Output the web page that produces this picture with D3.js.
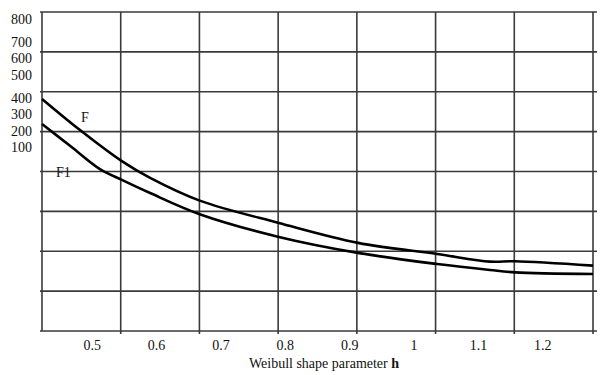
<!DOCTYPE html>
<html>
<head>
<meta charset="utf-8">
<script src="https://cdn.jsdelivr.net/npm/d3@7"></script>
<style>
  body { margin: 0; background: #fff; }
  text { font-family: "Liberation Serif", "Times New Roman", serif; fill: #111; }
</style>
</head>
<body>
<div id="chart"></div>
<script>
// values
const xTicks = [0.5, 0.6, 0.7, 0.8, 0.9, 1, 1.1, 1.2];
const yLabels = [800, 700, 600, 500, 400, 300, 200, 100];

const hF = [0.422, 0.481, 0.546, 0.590, 0.667, 0.790, 0.913, 1.036, 1.118, 1.157, 1.278];
const valF = [582, 504, 426, 384, 327, 271, 221, 193, 174, 175, 164];

const hF1 = [0.422, 0.466, 0.512, 0.546, 0.590, 0.667, 0.790, 0.913, 1.036, 1.118, 1.157, 1.278];
const valF1 = [519, 464, 406, 379, 346, 293, 236, 196, 168, 153, 147, 143];

const width = 606, height = 375;
const plotL = 42, plotR = 593, plotT = 12, plotB = 331;

const svg = d3.select('#chart').append('svg')
  .attr('width', width)
  .attr('height', height);

const x = d3.scaleLinear().domain([0.422, 1.278]).range([plotL, plotR]);
const y = d3.scaleLinear().domain([0, 800]).range([plotB, plotT]);
// the printed labels sit on their own uneven column, not on the grid
const yLab = d3.scaleLinear().domain([800, 700, 500, 400, 100]).range([19, 42, 75, 98, 147]);

const gridColor = '#3a3a3a';

// horizontal grid
svg.append('g').selectAll('line')
  .data(d3.range(0, 801, 100))
  .join('line')
    .attr('x1', plotL - 2)
    .attr('x2', 597)
    .attr('y1', d => y(d))
    .attr('y2', d => y(d))
    .attr('stroke', gridColor)
    .attr('stroke-width', 1.6);

// vertical grid, 7 equal columns
const step = (x.domain()[1] - x.domain()[0]) / 7;
svg.append('g').selectAll('line')
  .data(d3.range(8).map(i => x.domain()[0] + i * step))
  .join('line')
    .attr('x1', d => x(d))
    .attr('x2', d => x(d))
    .attr('y1', plotT)
    .attr('y2', (d, i) => (i === 0 ? plotB : plotB + 3))
    .attr('stroke', gridColor)
    .attr('stroke-width', 1.6);

// y labels
svg.append('g').selectAll('text')
  .data(yLabels)
  .join('text')
    .attr('x', 32)
    .attr('y', d => yLab(d))
    .attr('dy', '0.35em')
    .attr('text-anchor', 'end')
    .style('font-size', '14px')
    .text(d => d);

// x labels
svg.append('g').selectAll('text')
  .data(xTicks)
  .join('text')
    .attr('x', d => x(d))
    .attr('y', 350)
    .attr('text-anchor', 'middle')
    .style('font-size', '14px')
    .text(d => d);

const title = svg.append('text')
  .attr('x', 324)
  .attr('y', 368)
  .attr('text-anchor', 'middle')
  .style('font-size', '14px');
title.append('tspan').text('Weibull shape parameter ');
title.append('tspan').style('font-weight', 'bold').text('h');

// curves
const line = d3.line()
  .x(d => x(d[0]))
  .y(d => y(d[1]))
  .curve(d3.curveCatmullRom.alpha(0.5));

const series = [
  { name: 'F', pts: d3.zip(hF, valF) },
  { name: 'F1', pts: d3.zip(hF1, valF1) }
];

svg.append('g').selectAll('path')
  .data(series)
  .join('path')
    .attr('d', d => line(d.pts))
    .attr('fill', 'none')
    .attr('stroke', '#000')
    .attr('stroke-width', 2.6)
    .attr('stroke-linejoin', 'round');

// curve names
svg.append('text').attr('x', 81).attr('y', 122).style('font-size', '14px').text('F');
svg.append('text').attr('x', 56).attr('y', 177).style('font-size', '14px').text('F1');
</script>
</body>
</html>
